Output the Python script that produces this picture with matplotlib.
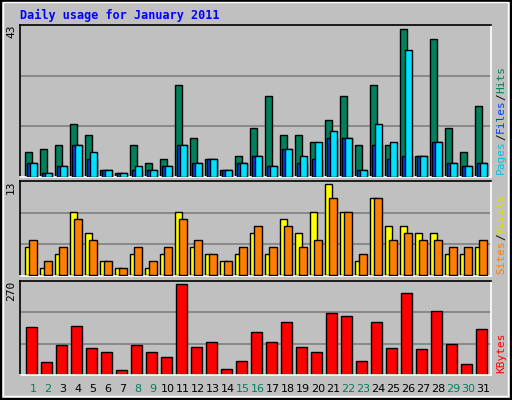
import matplotlib
matplotlib.use("Agg")
import matplotlib.pyplot as plt
from matplotlib.patches import Rectangle

days = list(range(1, 32))
hits = [7, 8, 9, 15, 12, 2, 1, 9, 4, 5, 26, 11, 5, 2, 6, 14, 23, 12, 12, 10, 16, 23, 9, 26, 9, 42, 6, 39, 14, 7, 20]
files = [4, 1, 3, 9, 7, 2, 1, 3, 2, 3, 9, 4, 5, 2, 4, 6, 3, 8, 6, 10, 13, 11, 2, 15, 10, 36, 6, 10, 4, 3, 4]
pages = [4, 1, 3, 9, 5, 2, 1, 2, 2, 3, 9, 4, 5, 2, 4, 6, 3, 8, 4, 5, 11, 11, 2, 9, 5, 6, 6, 10, 4, 3, 4]
visits = [4, 1, 3, 9, 6, 2, 1, 3, 1, 3, 9, 4, 3, 2, 3, 6, 3, 8, 6, 9, 13, 9, 2, 11, 7, 7, 6, 6, 3, 3, 4]
sites = [5, 2, 4, 8, 5, 2, 1, 4, 2, 4, 8, 5, 3, 2, 4, 7, 4, 7, 4, 5, 11, 9, 3, 11, 5, 6, 5, 5, 4, 4, 5]
kbytes = [142, 38, 89, 145, 80, 68, 15, 89, 68, 53, 270, 83, 97, 18, 41, 127, 97, 157, 83, 68, 183, 174, 41, 157, 80, 242, 77, 189, 92, 32, 136]
weekends = [1, 2, 8, 9, 15, 16, 22, 23, 29, 30]
max_labels = ["43", "13", "270"]

BG = "#C0C0C0"
fig = plt.figure(figsize=(5.12, 4.0), dpi=100, facecolor=BG)
# outer frame
fig.patches.append(Rectangle((0.002, 0.002), 0.996, 0.996, transform=fig.transFigure,
                             fill=False, ec="black", lw=1.5))
fig.patches.append(Rectangle((0.006, 0.01), 0.986, 0.984, transform=fig.transFigure,
                             fill=False, ec="white", lw=1))
fig.text(20/512, 1-15/400, "Daily usage for January 2011", color="#0000FF",
         family="DejaVu Sans Mono", weight="bold", fontsize=8.5, va="center", ha="left")

S = 15.0
xl = (1 - 5/S, 1 - 5/S + 471/S)

def mkax(bottom, height, ylim, label):
    ax = fig.add_axes([20/512, bottom, 471/512, height], facecolor=BG)
    ax.set_xlim(*xl)
    ax.set_ylim(*ylim)
    ax.set_xticks([]); ax.set_yticks([])
    for s in ("left", "top"):
        ax.spines[s].set_color("black"); ax.spines[s].set_linewidth(1.2)
    for s in ("right", "bottom"):
        ax.spines[s].set_color("white"); ax.spines[s].set_linewidth(1.2)
    for f in (1/3, 2/3):
        ax.axhline(ylim[0] + f*(ylim[1]-ylim[0]), color="#808080", lw=1.2, zorder=0)
    ax.text(-9/471, 1.0, label, transform=ax.transAxes, rotation=90, ha="center", va="top",
            family="DejaVu Sans Mono", fontsize=8)
    return ax

ax1 = mkax(0.5575, 0.38, (0, 43), max_labels[0])
x = days
ax1.bar([d for d in x], hits, width=7/S, align="edge", color="#00805C", ec="black", lw=1, zorder=2)
ax1.bar([d + 2/S for d in x], pages, width=9.7/S, align="edge", color="#0040FF", ec="black", lw=1, zorder=3)
ax1.bar([d + 4.5/S for d in x], files, width=7.2/S, align="edge", color="#00E0FF", ec="black", lw=1, zorder=4)

ax2 = mkax(0.31, 0.238, (-0.1, 13.5), max_labels[1])
ax2.bar(x, visits, width=7/S, align="edge", color="#FFFF00", ec="black", lw=1, zorder=2)
ax2.bar([d + 4.3/S for d in x], sites, width=7.4/S, align="edge", color="#FF8000", ec="black", lw=1, zorder=3)

ax3 = mkax(0.0625, 0.235, (0, 279), max_labels[2])
ax3.bar([d + 1/S for d in x], kbytes, width=10.5/S, align="edge", color="#FF0000", ec="black", lw=1, zorder=2)
for d in days:
    ax3.text(d + 8/S, -14/94, str(d), transform=ax3.get_xaxis_transform(), ha="center", va="center",
             fontsize=8, family="DejaVu Sans",
             color="#00805C" if d in weekends else "black")

def rlabel(ax, parts):
    # parts drawn bottom to top, rotated 90
    fig.canvas.draw()
    r = fig.canvas.get_renderer()
    y0 = 0.02
    for txt, col in parts:
        t = ax.text(1 + 10/471, y0, txt, transform=ax.transAxes, rotation=90, ha="center",
                    va="bottom", color=col, family="DejaVu Sans Mono", fontsize=8)
        bb = t.get_window_extent(r).transformed(ax.transAxes.inverted())
        y0 = bb.y1

rlabel(ax1, [("Pages", "#00C0E0"), ("/", "black"), ("Files", "#0040FF"), ("/", "black"), ("Hits", "#00805C")])
rlabel(ax2, [("Sites", "#FF8000"), ("/", "black"), ("Visits", "#E0E000")])
rlabel(ax3, [("KBytes", "#FF0000")])

fig.savefig("out.png", dpi=100, facecolor=BG)
